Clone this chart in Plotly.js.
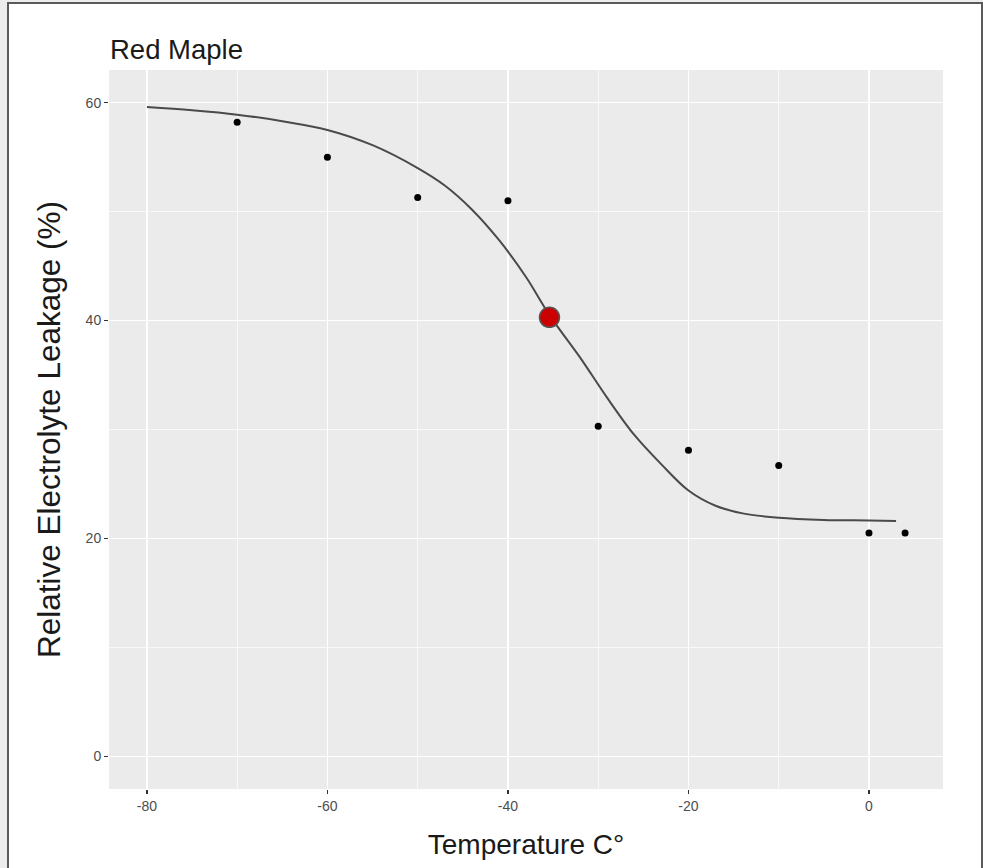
<!DOCTYPE html>
<html>
<head>
<meta charset="utf-8">
<script src="https://cdn.plot.ly/plotly-3.0.1.min.js"></script>
<style>
  html, body { margin: 0; padding: 0; background: #ececec; width: 983px; height: 868px; overflow: hidden; }
  #frame { position: absolute; left: 7px; top: 2px; width: 972px; height: 880px; border: 2px solid #5a5a5a; background: #ffffff; }
  #chart { position: absolute; left: 0; top: 0; width: 983px; height: 868px; }
</style>
</head>
<body>
<div id="frame"></div>
<div id="chart"></div>
<script>
// Observed data points
var tempC = [-70, -60, -50, -40, -30, -20, -10, 0, 4];
var leakage = [58.2, 55.0, 51.3, 51.0, 30.3, 28.1, 26.7, 20.5, 20.5];

// Fitted curve
var curveX = [-80, -75, -70, -65, -60, -55, -50, -47, -44, -41, -38, -35.4, -32, -29, -26, -23, -20, -17, -14, -10, -5, 0, 3];
var curveY = [59.6, 59.3, 58.9, 58.3, 57.5, 56.1, 54.0, 52.4, 50.2, 47.4, 44.0, 40.5, 36.6, 32.9, 29.5, 26.8, 24.4, 23.0, 22.3, 21.9, 21.7, 21.65, 21.6];

// Highlighted point (LT50)
var ltX = [-35.4];
var ltY = [40.3];

var xTicks = [-80, -60, -40, -20, 0];
var yTicks = [0, 20, 40, 60];

var traces = [
  {
    x: curveX, y: curveY, type: 'scatter', mode: 'lines',
    line: { color: '#4a4a4a', width: 2, shape: 'spline', smoothing: 1 },
    hoverinfo: 'skip', showlegend: false
  },
  {
    x: tempC, y: leakage, type: 'scatter', mode: 'markers',
    marker: { color: '#000000', size: 7 },
    showlegend: false
  },
  {
    x: ltX, y: ltY, type: 'scatter', mode: 'markers',
    marker: { color: '#cc0000', size: 20, line: { color: '#555555', width: 1.5 } },
    showlegend: false
  }
];

var layout = {
  width: 983, height: 868,
  paper_bgcolor: 'rgba(0,0,0,0)',
  plot_bgcolor: '#ebebeb',
  margin: { l: 109, r: 40, t: 70, b: 79 },
  font: { family: 'Liberation Sans, Arial, sans-serif', color: '#000000' },
  title: {
    text: 'Red Maple',
    font: { size: 27.5, color: '#1a1a1a' },
    x: 110 / 983, xref: 'container', xanchor: 'left',
    y: 1 - 49 / 868, yref: 'container', yanchor: 'middle'
  },
  xaxis: {
    range: [-84.2, 8.2],
    tickvals: xTicks,
    ticktext: xTicks.map(String),
    ticks: 'outside', ticklen: 4, tickwidth: 1.2, tickcolor: '#333333',
    tickfont: { size: 14, color: '#4d4d4d' },
    showgrid: true, gridcolor: '#ffffff', gridwidth: 1.6,
    minor: { dtick: 10, tick0: 0, showgrid: true, gridcolor: '#ffffff', gridwidth: 0.7, ticks: '' },
    zeroline: false, showline: false,
    title: { text: 'Temperature C°', font: { size: 28, color: '#1a1a1a' }, standoff: 21 }
  },
  yaxis: {
    range: [-3, 63],
    tickvals: yTicks,
    ticktext: yTicks.map(String),
    ticks: 'outside', ticklen: 4, tickwidth: 1.2, tickcolor: '#333333',
    tickfont: { size: 14, color: '#4d4d4d' },
    showgrid: true, gridcolor: '#ffffff', gridwidth: 1.6,
    minor: { dtick: 10, tick0: 0, showgrid: true, gridcolor: '#ffffff', gridwidth: 0.7, ticks: '' },
    zeroline: false, showline: false,
    title: { text: 'Relative Electrolyte Leakage (%)', font: { size: 31.5, color: '#1a1a1a' }, standoff: 15 }
  }
};

Plotly.newPlot('chart', traces, layout, { displayModeBar: false, staticPlot: true });
</script>
</body>
</html>
